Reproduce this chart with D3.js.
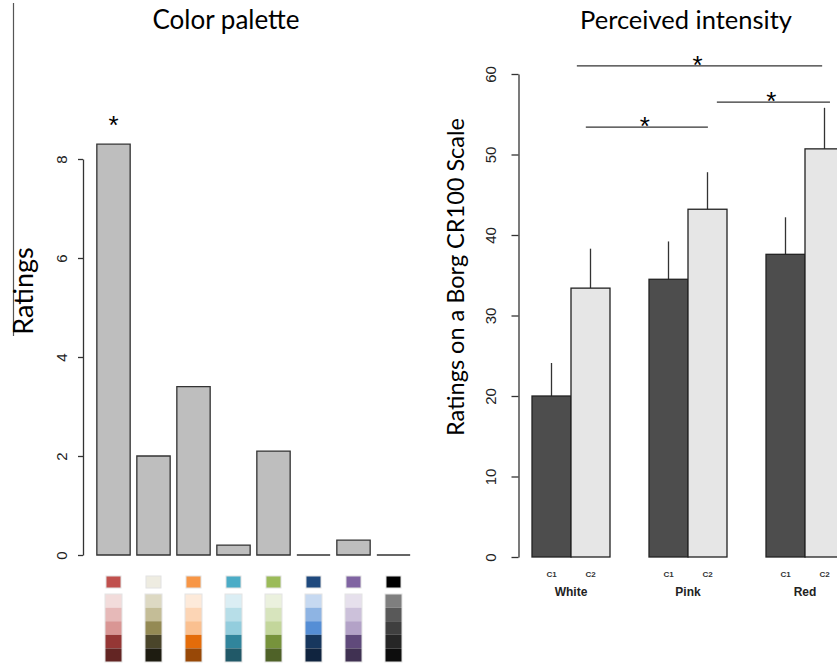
<!DOCTYPE html>
<html>
<head>
<meta charset="utf-8">
<script src="https://cdn.jsdelivr.net/npm/d3@7"></script>
<style>
  body { margin: 0; background: #fff; }
  svg { display: block; }
</style>
</head>
<body>
<script>
// canvas size
var width = 837
var height = 663

// ---- left panel data: colour palette ratings ----
const paletteNames = ["Red", "Tan", "Orange", "Aqua", "Green", "Blue", "Purple", "Black"];
const paletteRatings = [8.3, 2.0, 3.4, 0.2, 2.1, 0.0, 0.3, 0.0];
const paletteBase = ["#c0504d", "#eeece1", "#f79646", "#4bacc6", "#9bbb59", "#1f497d", "#8064a2", "#000000"];
const paletteTints = [
    ["#f2dcdb", "#e6b9b8", "#d99694", "#953735", "#632523"],
    ["#ddd9c3", "#c4bd97", "#948a54", "#4a452a", "#1e1c11"],
    ["#fdeada", "#fcd5b5", "#fac090", "#e46c0a", "#984807"],
    ["#dbeef4", "#b7dee8", "#93cddd", "#31859c", "#215968"],
    ["#ebf1de", "#d7e4bd", "#c3d69b", "#77933c", "#4f6228"],
    ["#c6d9f1", "#8eb4e3", "#558ed5", "#17375e", "#10243f"],
    ["#e6e0ec", "#ccc1da", "#b3a2c7", "#604a7b", "#403152"],
    ["#7f7f7f", "#595959", "#3f3f3f", "#262626", "#0d0d0d"]
];
const paletteTicks = [0, 2, 4, 6, 8];
const paletteStar = ["Red"];

// ---- right panel data: perceived intensity ----
const groups = ["White", "Pink", "Red"];
const conditions = ["C1", "C2"];
const meanC1 = [20.0, 34.5, 37.6];
const meanC2 = [33.4, 43.2, 50.7];
const upperC1 = [24.1, 39.2, 42.2];
const upperC2 = [38.3, 47.8, 55.8];
const intensityTicks = [0, 10, 20, 30, 40, 50, 60];
// significance brackets in barplot units (bar width = 1) and rating units
const sigFrom = [2.15, 2.38, 5.74];
const sigTo = [8.44, 5.51, 8.64];
const sigLevel = [61.0, 53.4, 56.5];

const titleFont = "Lato, 'Open Sans', sans-serif";
const rFont = "'Liberation Sans', Arial, sans-serif";
const ink = "#333";

const svg = d3.select("body")
    .append("svg")
    .attr("width", width)
    .attr("height", height);

svg.append("rect").attr("width", width).attr("height", height).attr("fill", "#fff");

//Left border line from the slide
svg.append("line")
    .attr("x1", 13.5).attr("x2", 13.5)
    .attr("y1", 3).attr("y2", 336)
    .attr("stroke", "#555").attr("stroke-width", 1.2);

//outline path for a bar, so zero height bars still show a line
const barPath = (x, y0, y1, w) => "M" + x + "," + y0 + "V" + y1 + "H" + (x + w) + "V" + y0 + "Z";

//---------------- LEFT PANEL ----------------
const left = svg.append("g");

const xL = d3.scaleBand()
    .domain(paletteNames)
    .range([93.5, 413.5])
    .paddingInner(0.2 / 1.2)
    .paddingOuter(0.1 / 1.2);

const yL = d3.scaleLinear()
    .domain([0, 8])
    .range([555, 159]);

left.append("text")
    .attr("x", 226).attr("y", 29)
    .attr("text-anchor", "middle")
    .attr("font-family", titleFont)
    .attr("font-size", 26)
    .text("Color palette");

left.append("text")
    .attr("transform", "translate(33,291) rotate(-90)")
    .attr("text-anchor", "middle")
    .attr("font-family", titleFont)
    .attr("font-size", 27)
    .text("Ratings");

const axL = left.append("g")
    .attr("transform", "translate(83,0)")
    .call(d3.axisLeft(yL).tickValues(paletteTicks).tickSize(5).tickSizeOuter(0));
axL.select(".domain").attr("stroke", ink).attr("stroke-width", 1.3);
axL.selectAll(".tick line").attr("stroke", ink).attr("stroke-width", 1.3);
axL.selectAll(".tick text")
    .attr("x", 0).attr("dy", 0)
    .attr("transform", "translate(-16,0) rotate(-90)")
    .attr("text-anchor", "middle")
    .attr("font-family", rFont)
    .attr("font-size", 15)
    .attr("fill", "#222");

left.append("g").selectAll("path")
    .data(paletteNames)
    .enter()
    .append("path")
    .attr("d", (d, i) => barPath(xL(d), yL(0), yL(paletteRatings[i]), xL.bandwidth()))
    .attr("fill", "#bebebe")
    .attr("stroke", ink)
    .attr("stroke-width", 1.3);

left.append("g").selectAll("text")
    .data(paletteStar)
    .enter()
    .append("text")
    .attr("x", d => xL(d) + xL.bandwidth() / 2)
    .attr("y", d => yL(paletteRatings[paletteNames.indexOf(d)]) - 10)
    .attr("text-anchor", "middle")
    .attr("font-family", rFont)
    .attr("font-size", 26)
    .text("*");

//colour swatches under the bars
const swatches = left.append("g").selectAll("g")
    .data(paletteNames)
    .enter()
    .append("g")
    .attr("transform", d => "translate(" + (xL(d) + xL.bandwidth() / 2) + ",0)");

swatches.append("rect")
    .attr("x", -7.5).attr("y", 576)
    .attr("width", 15).attr("height", 12)
    .attr("fill", (d, i) => paletteBase[i])
    .attr("stroke", "#e2e2e2").attr("stroke-width", 1);

const cellH = 13.6;
swatches.each(function (d, i) {
    d3.select(this).selectAll(".cell")
        .data(paletteTints[i])
        .enter()
        .append("rect")
        .attr("class", "cell")
        .attr("x", -8.5)
        .attr("y", (c, j) => 594 + j * cellH)
        .attr("width", 17)
        .attr("height", cellH)
        .attr("fill", c => c);
    d3.select(this).append("rect")
        .attr("x", -8.5).attr("y", 594)
        .attr("width", 17).attr("height", cellH * 5)
        .attr("fill", "none")
        .attr("stroke", "#e4e4e4").attr("stroke-width", 1);
});

//---------------- RIGHT PANEL ----------------
const right = svg.append("g");

const xG = d3.scaleBand()
    .domain(groups)
    .range([493, 883])
    .paddingInner(1 / 3)
    .paddingOuter(1 / 3);

const xC = d3.scaleBand()
    .domain(conditions)
    .range([0, xG.bandwidth()]);

//barplot units: bar width 1, first bar starts at 1
const xU = d3.scaleLinear()
    .domain([1, 9])
    .range([xG("White"), xG("Red") + xG.bandwidth()]);

const yR = d3.scaleLinear()
    .domain([0, 60])
    .range([557, 74]);

right.append("text")
    .attr("x", 686).attr("y", 29)
    .attr("text-anchor", "middle")
    .attr("font-family", titleFont)
    .attr("font-size", 25.5)
    .text("Perceived intensity");

right.append("text")
    .attr("transform", "translate(464,277) rotate(-90)")
    .attr("text-anchor", "middle")
    .attr("font-family", titleFont)
    .attr("font-size", 23.5)
    .text("Ratings on a Borg CR100 Scale");

const axR = right.append("g")
    .attr("transform", "translate(518.5,0)")
    .call(d3.axisLeft(yR).tickValues(intensityTicks).tickSize(7).tickSizeOuter(0));
axR.select(".domain").attr("stroke", ink).attr("stroke-width", 1.3);
axR.selectAll(".tick line").attr("stroke", ink).attr("stroke-width", 1.3);
axR.selectAll(".tick text")
    .attr("x", 0).attr("dy", 0)
    .attr("transform", "translate(-23,0) rotate(-90)")
    .attr("text-anchor", "middle")
    .attr("font-family", rFont)
    .attr("font-size", 15)
    .attr("fill", "#222");

//build the table of bars from the arrays
const bars = [];
groups.forEach((g, i) => {
    bars.push({ group: g, cond: "C1", mean: meanC1[i], upper: upperC1[i], fill: "#4d4d4d" });
    bars.push({ group: g, cond: "C2", mean: meanC2[i], upper: upperC2[i], fill: "#e6e6e6" });
});

const barG = right.append("g").selectAll("g")
    .data(bars)
    .enter()
    .append("g")
    .attr("transform", d => "translate(" + (xG(d.group) + xC(d.cond)) + ",0)");

barG.append("line")
    .attr("x1", xC.bandwidth() / 2).attr("x2", xC.bandwidth() / 2)
    .attr("y1", d => yR(d.mean)).attr("y2", d => yR(d.upper))
    .attr("stroke", ink).attr("stroke-width", 1.3);

barG.append("rect")
    .attr("x", 0)
    .attr("y", d => yR(d.mean))
    .attr("width", xC.bandwidth())
    .attr("height", d => yR(0) - yR(d.mean))
    .attr("fill", d => d.fill)
    .attr("stroke", "#222")
    .attr("stroke-width", 1.3);

barG.append("text")
    .attr("x", xC.bandwidth() / 2)
    .attr("y", 577)
    .attr("text-anchor", "middle")
    .attr("font-family", rFont)
    .attr("font-weight", "bold")
    .attr("font-size", 8)
    .attr("fill", "#333")
    .text(d => d.cond);

right.append("g").selectAll("text")
    .data(groups)
    .enter()
    .append("text")
    .attr("x", d => xG(d) + xG.bandwidth() / 2)
    .attr("y", 596)
    .attr("text-anchor", "middle")
    .attr("font-family", rFont)
    .attr("font-weight", "bold")
    .attr("font-size", 12)
    .attr("fill", "#222")
    .text(d => d);

//significance brackets
const sig = right.append("g").selectAll("g")
    .data(sigLevel)
    .enter()
    .append("g");

sig.append("line")
    .attr("x1", (d, i) => xU(sigFrom[i]))
    .attr("x2", (d, i) => xU(sigTo[i]))
    .attr("y1", d => yR(d)).attr("y2", d => yR(d))
    .attr("stroke", ink).attr("stroke-width", 1.3);

sig.append("text")
    .attr("x", (d, i) => (xU(sigFrom[i]) + xU(sigTo[i])) / 2 - 2)
    .attr("y", d => yR(d) + 8)
    .attr("text-anchor", "middle")
    .attr("font-family", rFont)
    .attr("font-size", 26)
    .text("*");
</script>
</body>
</html>
